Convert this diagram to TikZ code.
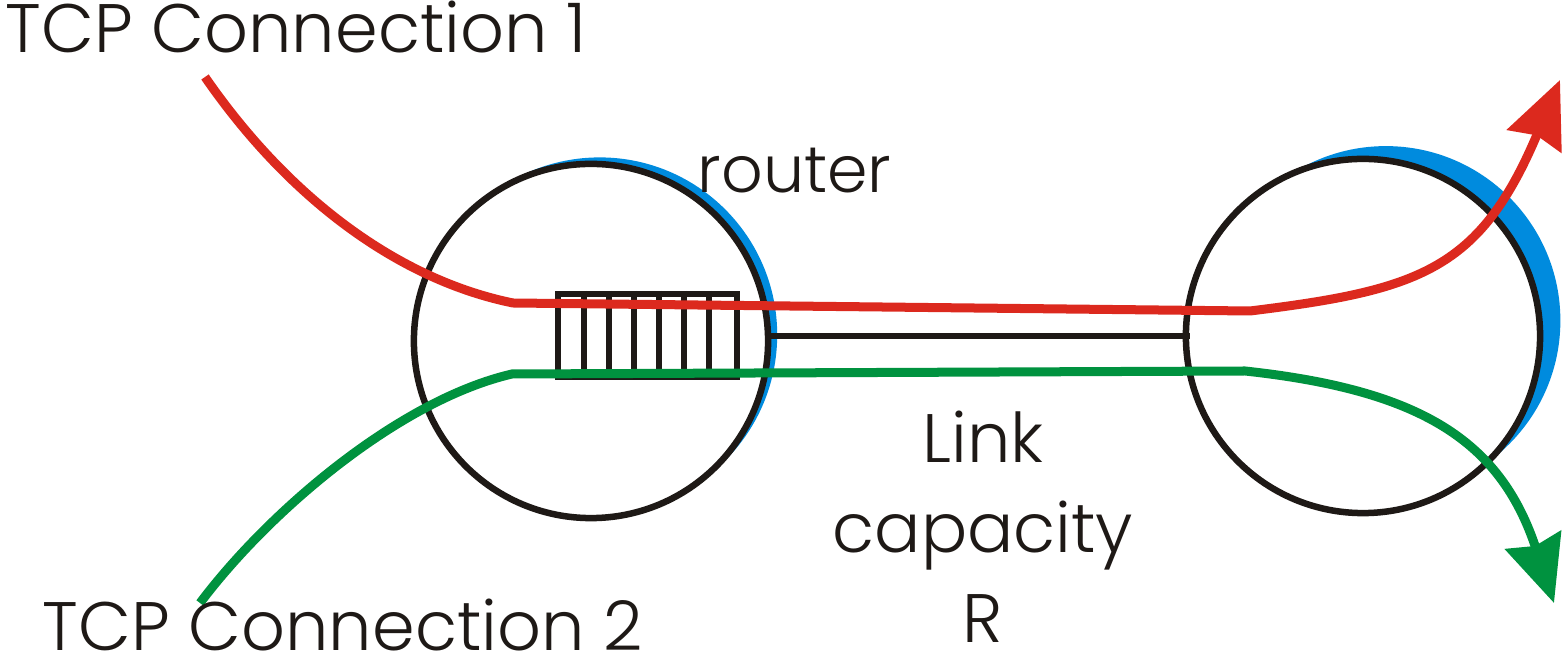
\documentclass[tikz,border=0pt]{standalone}
\usepackage{fontspec}
\setmainfont{Poppins}[UprightFont=* Light]
\usetikzlibrary{arrows.meta, positioning, backgrounds, calc}
\definecolor{tcpred}{RGB}{220,41,30}
\definecolor{tcpgreen}{RGB}{0,146,63}
\definecolor{shadeblue}{RGB}{0,139,222}
\definecolor{inkblack}{RGB}{30,25,22}

\begin{document}
\begin{tikzpicture}[
    x=0.01cm, y=-0.01cm,
    every node/.style={font=\fontsize{19.5pt}{25.6pt}\selectfont, text=inkblack},
    lbl/.style={inner sep=0pt},
    router/.style={draw=inkblack, fill=white, circle, line width=0.065cm, minimum size=3.54cm, inner sep=0pt},
    queue/.style={draw=inkblack, rectangle, line width=0.06cm, minimum width=1.79cm, minimum height=0.83cm, inner sep=0pt},
    qline/.style={draw=inkblack, line width=0.06cm},
    link/.style={draw=inkblack, line width=0.065cm},
    flow/.style={line width=0.09cm, -{Stealth[length=0.66cm, width=0.58cm, inset=0.06cm]}},
    shadow/.style={fill=shadeblue}
]
\useasboundingbox (0,0) rectangle (1565,661);

% Routers
\node[router] (r1) at (591,341) {};
\node[router] (r2) at (1363,336) {};

% Shadows
\begin{scope}[on background layer]
\fill[shadow] ($(r1)+(8.7,-6.1)$) circle[radius=1.774cm];
\fill[shadow] ($(r2)+(22.9,-15.4)$) circle[radius=1.744cm];
\end{scope}

% Queue and link
\node[queue] (buf) at (647.5,335.5) {};
\foreach \i in {0,...,5}
  \draw[qline] ([xshift={0.29cm+\i*0.25cm}]buf.north west) -- ([xshift={0.29cm+\i*0.25cm}]buf.south west);
\draw[link] (r1.east |- r2) -- ([xshift=0.07cm]r2.west);

% Flows
\coordinate (in1) at (205,77);
\coordinate (in2) at (200,603);
\coordinate (out1) at (1560,80);
\coordinate (out2) at (1554,603);
\draw[flow, tcpred] (in1) .. controls (290,200) and (400,280) .. (513,303)
    -- (1250,311) .. controls (1420,290) and (1480,270) .. (out1);
\draw[flow, tcpgreen] (in2) .. controls (270,510) and (400,400) .. (512,374)
    -- (1245,371) .. controls (1420,390) and (1500,440) .. (out2);

% Labels
\node[lbl, anchor=base west] (conn1) at (5,53) {TCP Connection 1};
\node[lbl, anchor=base west] (conn2) at (42,651) {TCP Connection 2};
\node[lbl, anchor=base west, font=\fontsize{18.5pt}{22pt}\selectfont] (rlabel) at (697,193) {router};
\node[lbl, align=center, anchor=base] (cap) at (983,643) {Link\\capacity\\R};

\end{tikzpicture}
\end{document}
